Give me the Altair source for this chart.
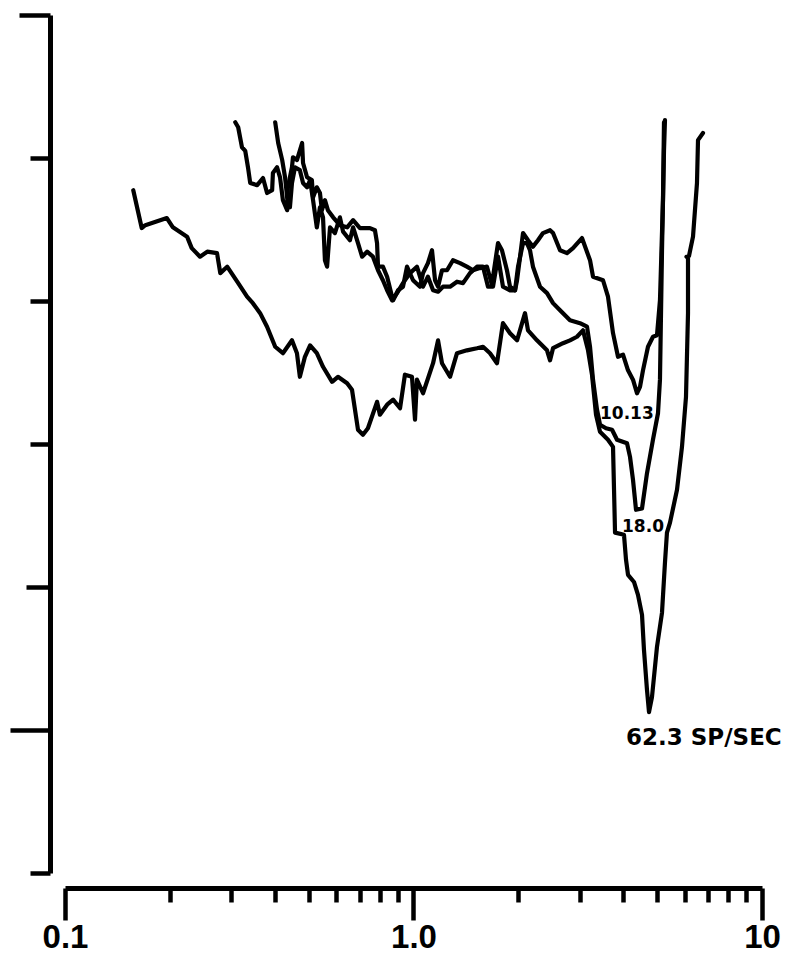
import altair as alt
import pandas as pd

# Frequency (log axis, 0.1-10) and threshold level (unlabelled axis, 0-120)
c1_f = [0.157, 0.166, 0.170, 0.196, 0.204, 0.224, 0.231, 0.244, 0.256, 0.273, 0.279, 0.292, 0.312, 0.333,
        0.346, 0.363, 0.380, 0.401, 0.422, 0.448, 0.463, 0.472, 0.488, 0.505, 0.528, 0.550, 0.584, 0.607,
        0.645, 0.666, 0.693, 0.716, 0.740, 0.786, 0.801, 0.840, 0.874, 0.915, 0.945, 0.990, 1.010, 1.023,
        1.065, 1.138, 1.176, 1.207, 1.273, 1.333, 1.423, 1.521, 1.583, 1.658, 1.736, 1.806, 1.892, 1.982,
        2.089, 2.131, 2.261, 2.416, 2.465, 2.514, 2.685, 2.812, 2.945, 3.064, 3.168, 3.252, 3.340, 3.429,
        3.615, 3.737, 3.762, 3.787, 4.018, 4.072, 4.126, 4.292, 4.407, 4.526, 4.585, 4.677, 4.740, 4.834,
        4.996, 5.165, 5.267, 5.337, 5.445, 5.703, 5.894, 6.052, 6.133, 6.133, 6.073, 6.173, 6.339, 6.508,
        6.552, 6.771]
c1_v = [95.5, 90.2, 90.6, 91.6, 90.3, 89.0, 87.4, 86.2, 86.9, 86.7, 83.9, 84.8, 82.7, 80.6,
        79.7, 78.3, 76.4, 73.6, 72.7, 74.5, 72.7, 69.4, 72.2, 73.8, 72.7, 70.8, 68.7, 69.4,
        68.5, 67.6, 62.0, 61.3, 62.2, 65.9, 64.1, 65.5, 66.2, 65.0, 69.7, 69.4, 63.4, 69.0,
        67.1, 71.3, 74.5, 71.3, 69.4, 72.7, 73.1, 73.4, 73.6, 72.7, 71.3, 76.9, 75.5, 74.5,
        78.3, 75.9, 74.5, 73.1, 71.7, 73.4, 74.1, 74.5, 75.0, 75.9, 73.1, 69.7, 64.1, 61.7,
        60.6, 59.6, 53.6, 47.6, 47.3, 43.8, 41.7, 40.7, 38.9, 36.1, 31.2, 25.6, 22.5, 24.6,
        31.6, 36.4, 43.4, 47.6, 49.0, 53.6, 59.6, 66.6, 78.3, 86.0, 86.2, 86.3, 89.0, 96.5,
        102.5, 103.5]

c2_f = [0.401, 0.409, 0.420, 0.428, 0.434, 0.442, 0.448, 0.457, 0.472, 0.482, 0.495, 0.505, 0.515, 0.528,
        0.539, 0.550, 0.557, 0.565, 0.576, 0.595, 0.615, 0.628, 0.657, 0.671, 0.693, 0.712, 0.736, 0.765,
        0.791, 0.817, 0.840, 0.868, 0.897, 0.933, 0.977, 1.023, 1.065, 1.100, 1.138, 1.176, 1.215, 1.273,
        1.333, 1.387, 1.452, 1.521, 1.583, 1.636, 1.691, 1.748, 1.806, 1.892, 1.956, 1.995, 2.062, 2.117,
        2.159, 2.202, 2.307, 2.416, 2.514, 2.633, 2.812, 3.004, 3.147, 3.210, 3.274, 3.362, 3.429, 3.568,
        3.713, 3.837, 4.099, 4.181, 4.264, 4.350, 4.526, 4.677, 4.866, 5.030, 5.096, 5.165, 5.233, 5.267]
c2_v = [105.0, 102.1, 99.7, 97.3, 94.5, 93.1, 96.5, 98.7, 98.3, 96.5, 95.9, 96.9, 94.1, 90.3,
        93.1, 91.7, 85.7, 84.8, 90.3, 89.5, 91.7, 89.7, 88.5, 90.3, 88.1, 86.2, 86.9, 86.2,
        84.3, 82.9, 81.5, 80.1, 81.1, 82.5, 83.9, 84.8, 82.0, 83.4, 81.5, 81.3, 82.0, 82.0,
        82.7, 82.5, 83.9, 84.8, 84.8, 82.0, 82.0, 86.2, 82.0, 81.5, 81.5, 84.8, 88.1, 88.1,
        87.1, 84.8, 82.0, 81.1, 79.7, 78.7, 77.3, 76.9, 76.4, 73.6, 69.0, 64.8, 62.7, 62.2,
        62.0, 60.6, 60.1, 58.2, 55.0, 50.8, 51.0, 55.9, 60.6, 64.3, 69.0, 87.1, 101.0, 105.3]

c3_f = [0.308, 0.314, 0.322, 0.329, 0.335, 0.340, 0.356, 0.370, 0.380, 0.393, 0.395, 0.406, 0.414, 0.422,
        0.434, 0.436, 0.448, 0.451, 0.463, 0.479, 0.482, 0.495, 0.511, 0.515, 0.528, 0.539, 0.546, 0.557,
        0.568, 0.588, 0.615, 0.645, 0.671, 0.702, 0.750, 0.775, 0.786, 0.791, 0.817, 0.840, 0.868, 0.874,
        0.903, 0.933, 0.958, 0.997, 1.044, 1.065, 1.100, 1.130, 1.153, 1.176, 1.207, 1.248, 1.298, 1.360,
        1.423, 1.481, 1.551, 1.625, 1.680, 1.691, 1.748, 1.794, 1.854, 1.892, 1.956, 1.982, 2.022, 2.062,
        2.131, 2.202, 2.276, 2.353, 2.465, 2.514, 2.633, 2.757, 2.869, 3.044, 3.210, 3.274, 3.498, 3.615,
        3.737, 3.862, 3.992, 4.126, 4.264, 4.378, 4.466, 4.555, 4.708, 4.866, 4.996, 5.096, 5.198, 5.233]
c3_v = [105.0, 104.3, 101.5, 101.0, 98.7, 96.5, 96.2, 97.2, 95.1, 95.5, 97.9, 98.7, 97.3, 94.1,
        92.7, 95.9, 98.7, 100.1, 99.7, 102.1, 99.3, 97.3, 96.9, 94.5, 95.9, 95.1, 92.7, 94.1,
        92.7, 91.7, 90.6, 90.3, 91.3, 90.2, 90.2, 89.9, 88.1, 84.8, 84.8, 83.4, 80.6, 80.1,
        81.5, 82.0, 84.8, 82.9, 82.0, 83.9, 85.3, 87.1, 82.9, 82.0, 84.3, 84.3, 85.7, 85.3,
        84.8, 84.3, 84.6, 84.8, 82.2, 83.4, 88.1, 87.1, 84.3, 82.0, 81.5, 82.9, 86.2, 89.5,
        88.5, 87.6, 88.5, 89.5, 89.9, 89.5, 87.1, 86.7, 87.4, 88.8, 85.7, 83.4, 82.9, 80.6,
        75.5, 72.2, 72.5, 70.3, 69.0, 67.1, 68.0, 70.3, 73.6, 75.0, 75.2, 80.1, 94.1, 105.0]

curve_names = ["62.3", "18.0", "10.13"]

small_labels = ["10.13", "18.0"]
small_label_f = [3.429, 3.966]
small_label_v = [64.2, 48.4]

big_label = ["62.3 SP/SEC"]
big_label_f = [4.072]
big_label_v = [17.9]

x_ticks = [0.1, 0.2, 0.3, 0.4, 0.5, 0.6, 0.7, 0.8, 0.9, 1, 2, 3, 4, 5, 6, 7, 8, 9, 10]
y_ticks = [0, 20, 40, 60, 80, 100, 120]

rows = []
for name, fs, vs in zip(curve_names, [c1_f, c2_f, c3_f], [c1_v, c2_v, c3_v]):
    for i, (f, v) in enumerate(zip(fs, vs)):
        rows.append({"curve": name, "f": f, "v": v, "i": i})
df = pd.DataFrame(rows)

df_small = pd.DataFrame({"t": small_labels, "f": small_label_f, "v": small_label_v})
df_big = pd.DataFrame({"t": big_label, "f": big_label_f, "v": big_label_v})

x_axis = alt.Axis(
    values=x_ticks,
    title=None,
    grid=False,
    offset=15,
    domainColor="black",
    domainWidth=5,
    tickColor="black",
    tickWidth=4.5,
    tickSize={"condition": {"test": "datum.value == 0.1 || datum.value == 1 || datum.value == 10", "value": 32},
              "value": 14},
    labelExpr="datum.value == 0.1 ? '0.1' : datum.value == 1 ? '1.0' : datum.value == 10 ? '10' : ''",
    labelFont="Liberation Sans",
    labelFontSize=33,
    labelFontWeight="bold",
    labelColor="black",
    labelFlush=False,
    labelOverlap=False,
    labelPadding=1,
)

y_axis = alt.Axis(
    values=y_ticks,
    title=None,
    grid=False,
    labels=False,
    offset=15,
    domainColor="black",
    domainWidth=5,
    tickColor="black",
    tickWidth=4.5,
    tickSize={"condition": [{"test": "datum.value == 20", "value": 40},
                            {"test": "datum.value == 120", "value": 31},
                            {"test": "datum.value == 40", "value": 24}],
              "value": 20},
)

x_enc = alt.X("f:Q", scale=alt.Scale(type="log", domain=[0.1, 10]), axis=x_axis)
y_enc = alt.Y("v:Q", scale=alt.Scale(domain=[0, 120]), axis=y_axis)

lines = alt.Chart(df).mark_line(
    color="black", strokeWidth=4.2, strokeJoin="round", strokeCap="round", clip=True
).encode(x=x_enc, y=y_enc, detail="curve:N", order="i:Q")

small_text = alt.Chart(df_small).mark_text(
    align="left", baseline="middle", font="DejaVu Sans", fontWeight="bold", fontSize=17, color="black"
).encode(x=alt.X("f:Q"), y=alt.Y("v:Q"), text="t:N")

big_text = alt.Chart(df_big).mark_text(
    align="left", baseline="alphabetic", font="DejaVu Sans", fontWeight="bold", fontSize=23, color="black"
).encode(x=alt.X("f:Q"), y=alt.Y("v:Q"), text="t:N")

chart = alt.layer(lines, small_text, big_text).properties(
    width=697,
    height=858,
    background="white",
    autosize=alt.AutoSizeParams(type="none"),
    padding={"left": 57, "top": 7, "right": 24, "bottom": 85},
).configure_view(stroke=None)

chart.save("out.html", embed_options={"renderer": "svg", "actions": False})
